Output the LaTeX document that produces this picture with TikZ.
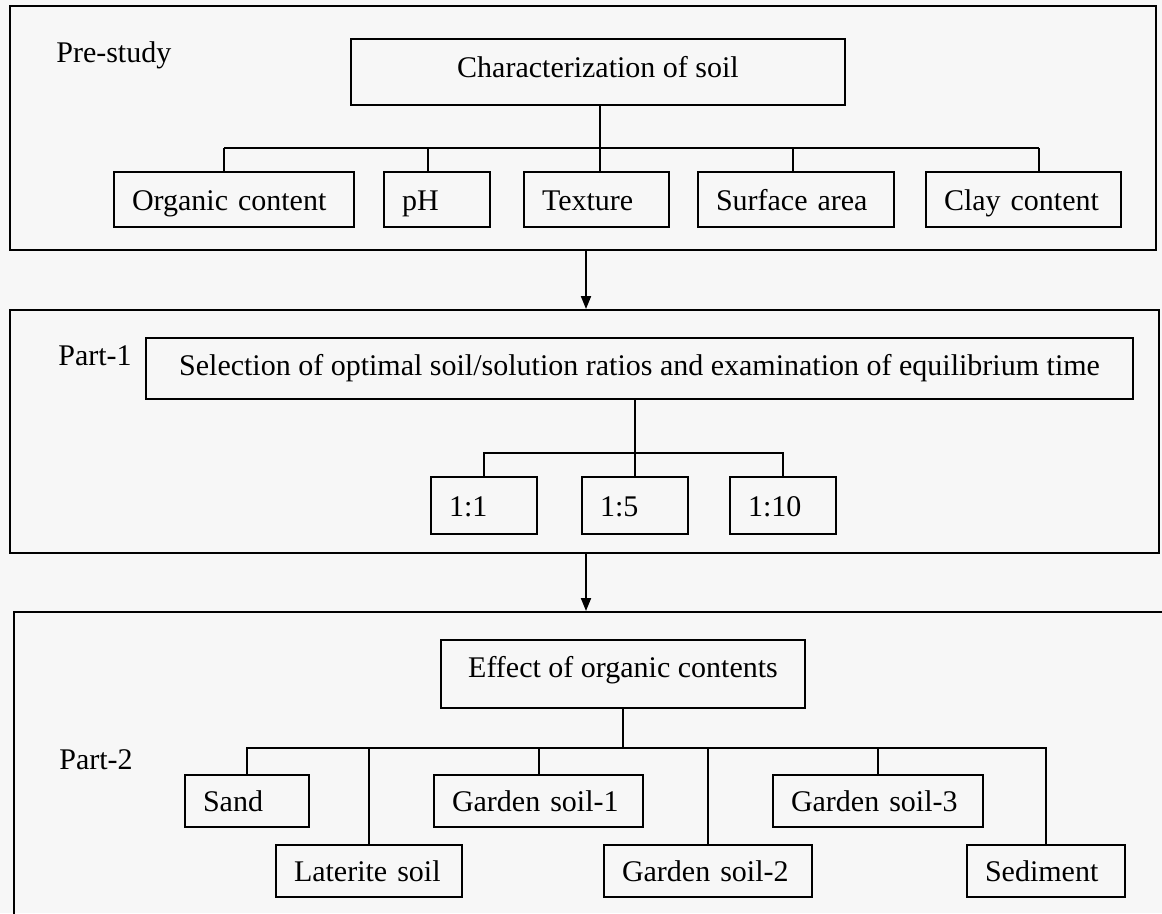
\documentclass[tikz,border=0pt]{standalone}
\usepackage{fontspec}
\setmainfont{Liberation Serif}
\usetikzlibrary{arrows.meta}

\tikzset{
  panel/.style={draw, anchor=north west, inner sep=0pt},
  head/.style={draw, anchor=north west, inner sep=0pt, align=center,
    text height=21pt, text depth=6.6pt},
  leaf/.style 2 args={draw, anchor=north west, inner xsep=18pt, inner ysep=0pt,
    align=left, text width=#1, minimum height=#2,
    text height=21pt, text depth=0pt},
}

\begin{document}
\begin{tikzpicture}[x=1pt,y=-1pt,line width=2pt,>={Triangle[length=13pt,width=10pt]},
  every node/.style={font=\fontsize{30pt}{36pt}\selectfont}]
   \useasboundingbox (0,0) rectangle (1162,913);
   \fill[black!3] (0,0) rectangle (1162,913);
   \clip (0,0) rectangle (1162,913);

   % frames
   \node[panel, minimum width=1146pt, minimum height=244pt] (pre) at (9,5) {};
   \node[panel, minimum width=1149pt, minimum height=243pt] (p1) at (9,309) {};
   \node[panel, minimum width=1170pt, minimum height=330pt] (p2) at (13,611) {};

   \node[anchor=base west] (lpre) at (52,62) {Pre-study};
   \node[anchor=base west] (lp1) at (54,365) {Part-1};
   \node[anchor=base west] (lp2) at (55,769) {Part-2};

   % pre-study
   \node[head, minimum width=494pt, minimum height=66pt, text depth=10pt] (char) at (350,38) {Characterization of soil};
   \node[leaf={204pt}{55pt}] (oc) at (113,171) {Organic content};
   \node[leaf={70pt}{55pt}] (ph) at (383,171) {pH};
   \node[leaf={109pt}{55pt}] (tex) at (523,171) {Texture};
   \node[leaf={160pt}{55pt}] (sa) at (697,171) {Surface area};
   \node[leaf={159pt}{55pt}] (cc) at (925,171) {Clay content};

   \foreach \n/\x in {oc/224,ph/428,tex/600,sa/793,cc/1039}{
     \coordinate (j-\n) at (\x,148);
     \draw (j-\n) -- (j-\n |- \n.north);
   }
   \draw (j-oc) -- (j-cc);
   \draw (char.south -| j-tex) -- (j-tex);

   % part 1
   \node[head, minimum width=987pt, minimum height=61pt] (sel) at (145,337)
     {Selection of optimal soil/solution ratios and examination of equilibrium time};
   \node[leaf={70pt}{57pt}] (r1) at (430,476) {1:1};
   \node[leaf={70pt}{57pt}] (r5) at (581,476) {1:5};
   \node[leaf={70pt}{57pt}] (r10) at (729,476) {1:10};

   \coordinate (j2) at (0,453);
   \draw (r1.north) |- (r10.north |- j2) -- (r10.north);
   \draw (sel.south -| r5.north) -- (r5.north);

   % part 2
   \node[head, minimum width=364pt, minimum height=68pt, text depth=15pt] (eff) at (440,639) {Effect of organic contents};
   \node[leaf={88pt}{52pt}] (sand) at (184,774) {Sand};
   \node[leaf={150pt}{52pt}] (lat) at (275,844) {Laterite soil};
   \node[leaf={173pt}{52pt}] (gs1) at (433,774) {Garden soil-1};
   \node[leaf={172pt}{52pt}] (gs2) at (603,844) {Garden soil-2};
   \node[leaf={174pt}{52pt}] (gs3) at (772,774) {Garden soil-3};
   \node[leaf={122pt}{52pt}] (sed) at (966,844) {Sediment};

   \coordinate (j3) at (0,748);
   \draw (sand.north) |- (sed.north |- j3) -- (sed.north);
   \foreach \n in {lat,gs1,gs2,gs3} \draw (\n.north) -- (\n.north |- j3);
   \draw (eff.south) -- (eff.south |- j3);

   % arrows between parts
   \coordinate (ax) at (586,0);
   \draw[->] (pre.south -| ax) -- (p1.north -| ax);
   \draw[->] (p1.south -| ax) -- (p2.north -| ax);
\end{tikzpicture}
\end{document}
